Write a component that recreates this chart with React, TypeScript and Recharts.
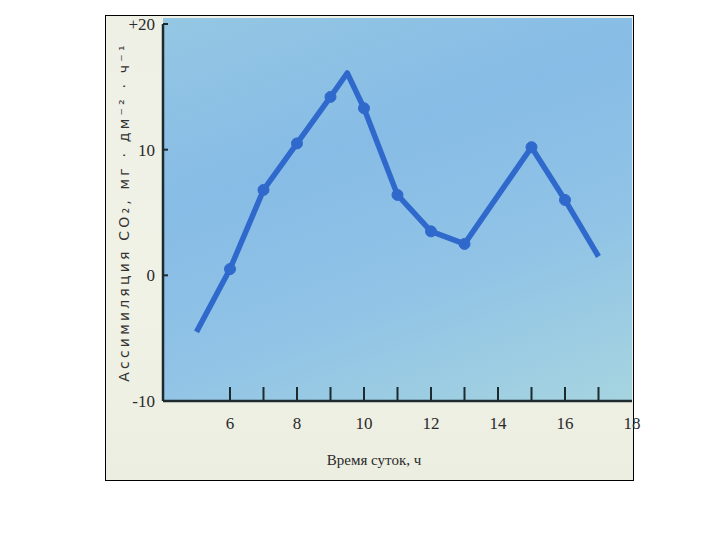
import React from 'react';
import { LineChart, Line, XAxis, YAxis } from 'recharts';

// часы суток и ассимиляция CO2 (мг · дм⁻² · ч⁻¹)
const hours = [5, 6, 7, 8, 9, 9.5, 10, 11, 12, 13, 15, 16, 17];
const assimilation = [-4.5, 0.5, 6.8, 10.5, 14.2, 16.1, 13.3, 6.4, 3.5, 2.5, 10.2, 6.0, 1.5];
const measured = [false, true, true, true, true, false, true, true, true, true, true, true, false];

const xTicks = [6, 7, 8, 9, 10, 11, 12, 13, 14, 15, 16, 17, 18];
const xTickLabels = ['6', '', '8', '', '10', '', '12', '', '14', '', '16', '', '18'];
const yTicks = [-10, 0, 10, 20];
const yTickLabels = ['-10', '0', '10', '+20'];

const data = hours.map((h, i) => ({ hour: h, value: assimilation[i], marked: measured[i] }));

const LINE = '#3069cc';
const INK = '#1d2b2e';
const SERIF = '"Liberation Serif", "DejaVu Serif", serif';

const XTick = (props: any) => {
  const { x, y, payload, index } = props;
  return (
    <g>
      {payload.value < 18 && <line x1={x} x2={x} y1={y - 14} y2={y} stroke={INK} strokeWidth={2} />}
      <text x={x} y={y + 28} textAnchor="middle" fontFamily={SERIF} fontSize={17} fill="#2a2a2a">
        {xTickLabels[index]}
      </text>
    </g>
  );
};

const YTick = (props: any) => {
  const { x, y, index } = props;
  return (
    <g>
      <line x1={x} x2={x + 5} y1={y} y2={y} stroke={INK} strokeWidth={2} />
      <text x={x - 8} y={y + 6} textAnchor="end" fontFamily={SERIF} fontSize={17} fill="#2a2a2a">
        {yTickLabels[index]}
      </text>
    </g>
  );
};

const Dot = (props: any) => {
  const { cx, cy, payload, index } = props;
  if (!payload.marked) return <g key={index} />;
  return <circle key={index} cx={cx} cy={cy} r={5.5} fill={LINE} stroke={LINE} />;
};

const YLabel = () => (
  <text
    x={129}
    y={212}
    transform="rotate(-90, 129, 212)"
    textAnchor="middle"
    fontFamily='"DejaVu Sans", sans-serif'
    fontSize={14}
    letterSpacing={3.2}
    fill="#333"
  >
    Ассимиляция CO₂, мг · дм⁻² · ч⁻¹
  </text>
);

const XLabel = () => (
  <text x={374} y={465} textAnchor="middle" fontFamily={SERIF} fontSize={15} fill="#2a2a2a">
    Время суток, ч
  </text>
);

export default function App() {
  return (
    <div style={{ position: 'fixed', left: 0, top: 0, width: 720, height: 540, background: '#fff' }}>
      <div
        style={{
          position: 'absolute',
          left: 105,
          top: 15,
          width: 527,
          height: 464,
          border: '1px solid #000',
          background: 'linear-gradient(180deg, #eef0e6 0%, #f1f2e6 60%, #eceee2 100%)',
        }}
      />
      <div
        style={{
          position: 'absolute',
          left: 163,
          top: 18,
          width: 469,
          height: 383,
          background: 'linear-gradient(160deg, #94c7e3 0%, #87bce6 35%, #90c3e6 65%, #a6d4e0 100%)',
        }}
      />
      <div style={{ position: 'absolute', left: 0, top: 0 }}>
        <LineChart width={720} height={540} data={data} margin={{ top: 24, right: 88, left: 103, bottom: 109 }}>
          <XAxis
            type="number"
            dataKey="hour"
            domain={[4, 18]}
            ticks={xTicks}
            height={30}
            tick={<XTick />}
            tickLine={false}
            tickSize={0}
            tickMargin={0}
            axisLine={{ stroke: INK, strokeWidth: 2.5 }}
            interval={0}
            label={<XLabel />}
          />
          <YAxis
            type="number"
            domain={[-10, 20]}
            ticks={yTicks}
            width={60}
            tick={<YTick />}
            tickLine={false}
            tickSize={0}
            tickMargin={0}
            axisLine={{ stroke: INK, strokeWidth: 2.5 }}
            interval={0}
            label={<YLabel />}
          />
          <Line
            type="linear"
            dataKey="value"
            stroke={LINE}
            strokeWidth={5.5}
            strokeLinejoin="round"
            dot={<Dot />}
            activeDot={false}
            isAnimationActive={false}
          />
        </LineChart>
      </div>
    </div>
  );
}
